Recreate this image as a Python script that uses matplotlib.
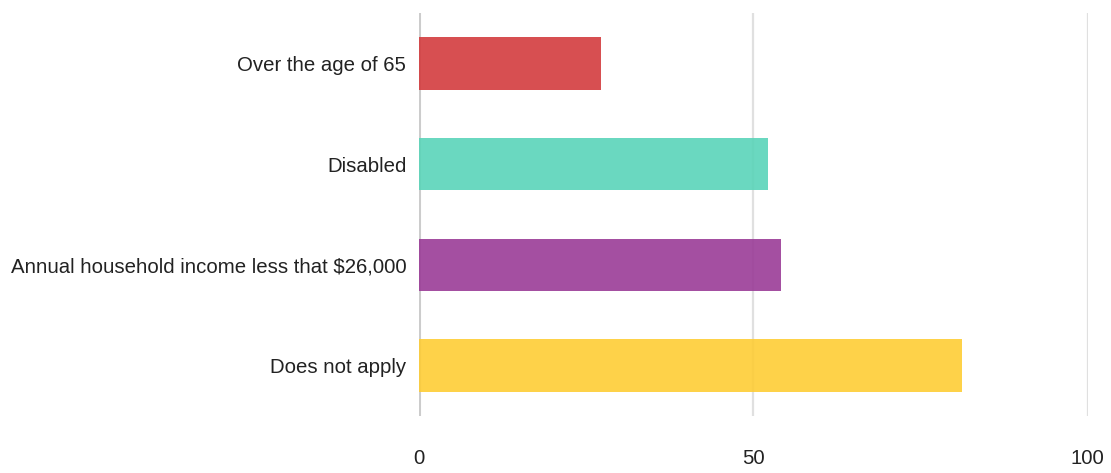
import matplotlib.pyplot as plt

plt.rcParams['font.family'] = ['Liberation Sans', 'DejaVu Sans']

categories = ['Over the age of 65', 'Disabled',
              'Annual household income less that $26,000', 'Does not apply']
values = [27.2, 52.2, 54.1, 81.2]
colors = ['#d33c3e', '#5ad4b9', '#9a3c97', '#fecd35']
ticks = [0, 50, 100]

fig = plt.figure(figsize=(11.11, 4.73), dpi=100)
ax = fig.add_axes([0.377, 0.1205, 0.602, 0.852])

ypos = range(len(categories))
ax.barh(ypos, values, height=0.52, color=colors, alpha=0.9, zorder=3)

ax.set_ylim(len(categories) - 0.5, -0.5)
ax.set_xlim(0, 100)
ax.set_yticks(list(ypos))
ax.set_yticklabels(categories, fontsize=14.7, color='#222222')
ax.set_xticks(ticks)
ax.set_xticklabels([str(t) for t in ticks], fontsize=14.7, color='#222222')
ax.tick_params(axis='both', length=0)
ax.tick_params(axis='y', pad=9)
ax.tick_params(axis='x', pad=24)

for t in ticks:
    ax.axvline(t, color='#cccccc' if t == 0 else '#e0e0e0',
               lw=2.2 if t == 0 else 1.6, zorder=1)
for s in ax.spines.values():
    s.set_visible(False)

fig.savefig('out.png', dpi=100)
